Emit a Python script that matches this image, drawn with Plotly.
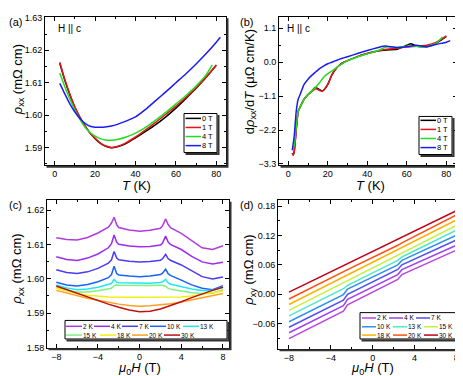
import plotly.graph_objects as go

W, H = 463, 376
FONT = "Liberation Sans"

# ---------------- (a) rho_xx vs T ----------------
T_0T = [2.5, 5, 7.5, 10, 12.5, 15, 17.5, 20, 22.5, 25, 28, 31, 35, 40, 45, 50, 55, 60, 65, 70, 75, 80]
rho_0T = [1.6160, 1.6108, 1.6063, 1.6024, 1.5993, 1.5967, 1.5945, 1.5928, 1.5914, 1.5905, 1.5900, 1.5903,
          1.5912, 1.5930, 1.5950, 1.5971, 1.5995, 1.6022, 1.6052, 1.6083, 1.6117, 1.6154]
T_1T = [2.5, 5, 7.5, 10, 12.5, 15, 17.5, 20, 22.5, 25, 28, 31, 35, 40, 45, 50, 55, 60, 65, 70, 75, 80]
rho_1T = [1.6163, 1.6110, 1.6065, 1.6025, 1.5994, 1.5967, 1.5945, 1.5929, 1.5915, 1.5906, 1.5901, 1.5904,
          1.5914, 1.5933, 1.5955, 1.5978, 1.6003, 1.6028, 1.6055, 1.6085, 1.6118, 1.6155]
T_4T = [2.5, 5, 7.5, 10, 12.5, 15, 17.5, 20, 22.5, 25, 28, 31, 35, 40, 45, 50, 55, 60, 65, 70, 75, 78]
rho_4T = [1.6130, 1.6088, 1.6050, 1.6016, 1.5987, 1.5963, 1.5947, 1.5936, 1.5928, 1.5924, 1.5923, 1.5925,
          1.5932, 1.5945, 1.5963, 1.5985, 1.6009, 1.6035, 1.6061, 1.6090, 1.6125, 1.6155]
T_8T = [2.5, 5, 7.5, 10, 12.5, 15, 17.5, 20, 22.5, 25, 28, 31, 35, 40, 45, 50, 55, 60, 65, 70, 75, 80, 82]
rho_8T = [1.6098, 1.6066, 1.6035, 1.6010, 1.5990, 1.5975, 1.5966, 1.5963, 1.5963, 1.5964, 1.5967, 1.5972,
          1.5981, 1.5995, 1.6018, 1.6045, 1.6072, 1.6100, 1.6128, 1.6158, 1.6190, 1.6225, 1.6240]

# ---------------- (b) d rho_xx / dT ----------------
Tb_0T = [2, 2.5, 3, 4, 5, 6, 8, 10, 12, 13.5, 15, 17, 18, 20, 22, 24, 26, 28, 30, 35, 40, 45, 50, 55, 60, 62, 65, 70, 75, 80]
drho_0T = [-2.95, -3.0, -2.9, -2.2, -1.6, -1.45, -1.2, -1.05, -0.93, -0.82, -0.86, -0.93, -0.9, -0.72, -0.42,
           -0.22, -0.09, -0.01, 0.05, 0.18, 0.28, 0.36, 0.40, 0.42, 0.55, 0.60, 0.52, 0.50, 0.62, 0.84]
Tb_1T = [2, 2.5, 3, 4, 5, 6, 8, 10, 12, 14, 16, 17, 18, 20, 22, 24, 26, 28, 30, 35, 40, 45, 50, 55, 60, 65, 70, 75, 80]
drho_1T = [-2.95, -3.02, -2.9, -2.2, -1.6, -1.45, -1.2, -1.05, -0.95, -0.86, -0.92, -0.94, -0.9, -0.72, -0.42,
           -0.22, -0.09, -0.01, 0.05, 0.18, 0.28, 0.36, 0.42, 0.45, 0.50, 0.52, 0.55, 0.65, 0.85]
Tb_4T = [2, 3, 4, 5, 6, 8, 10, 12, 14, 16, 18, 20, 22, 24, 26, 28, 30, 35, 40, 45, 50, 55, 60, 65, 70, 75, 78]
drho_4T = [-2.85, -2.7, -2.1, -1.6, -1.45, -1.2, -1.05, -0.93, -0.8, -0.65, -0.48, -0.37, -0.29, -0.19, -0.1,
           -0.02, 0.05, 0.17, 0.27, 0.37, 0.50, 0.48, 0.52, 0.52, 0.50, 0.62, 0.82]
Tb_8T = [2, 3, 4, 5, 6, 8, 10, 12, 14, 16, 18, 20, 22, 24, 26, 28, 30, 35, 40, 45, 48, 50, 55, 60, 65, 70, 75, 80, 82]
drho_8T = [-2.85, -2.4, -1.6, -1.2, -1.05, -0.72, -0.55, -0.42, -0.31, -0.2, -0.12, -0.05, 0.0, 0.05, 0.1,
           0.14, 0.18, 0.28, 0.38, 0.47, 0.52, 0.52, 0.48, 0.50, 0.55, 0.50, 0.58, 0.65, 0.70]

# ---------------- (c) rho_xx vs mu0H ----------------
H_kink = [-8, -7, -6, -5, -4, -3, -2.7, -2.45, -2.2, -2, -1, 0, 1, 2, 2.2, 2.5, 2.75, 3, 4, 5, 6, 7, 8]
H_smooth = [-8, -7, -6, -5, -4, -3, -2, -1, 0, 1, 2, 3, 4, 5, 6, 7, 8]
rxx_2K = [1.6119, 1.6114, 1.6113, 1.6120, 1.6133, 1.6150, 1.6162, 1.6179, 1.6157, 1.6149, 1.6142, 1.6138,
          1.6141, 1.6147, 1.6154, 1.6174, 1.6157, 1.6148, 1.6132, 1.6110, 1.6090, 1.6085, 1.6096]
rxx_4K = [1.6064, 1.6056, 1.6053, 1.6060, 1.6072, 1.6090, 1.6102, 1.6127, 1.6106, 1.6100, 1.6095, 1.6093,
          1.6094, 1.6098, 1.6104, 1.6124, 1.6106, 1.6099, 1.6085, 1.6065, 1.6049, 1.6043, 1.6048]
rxx_7K = [1.6026, 1.6018, 1.6015, 1.6020, 1.6030, 1.6045, 1.6055, 1.6079, 1.6060, 1.6055, 1.6051, 1.6049,
          1.6050, 1.6054, 1.6058, 1.6071, 1.6058, 1.6053, 1.6040, 1.6022, 1.6006, 1.5999, 1.6005]
rxx_10K = [1.5990, 1.5982, 1.5979, 1.5983, 1.5991, 1.6003, 1.6012, 1.6036, 1.6015, 1.6011, 1.6008, 1.6006,
           1.6008, 1.6012, 1.6016, 1.6028, 1.6014, 1.6009, 1.5996, 1.5982, 1.5972, 1.5968, 1.5980]
rxx_13K = [1.5982, 1.5973, 1.5968, 1.5970, 1.5975, 1.5982, 1.5986, 1.5998, 1.5990, 1.5988, 1.5987, 1.5986,
           1.5987, 1.5989, 1.5991, 1.5998, 1.5988, 1.5984, 1.5976, 1.5970, 1.5966, 1.5966, 1.5975]
rxx_15K = [1.5975, 1.5966, 1.5961, 1.5961, 1.5965, 1.5969, 1.5972, 1.5980, 1.5982, 1.5981, 1.5980, 1.5979,
           1.5980, 1.5981, 1.5981, 1.5978, 1.5972, 1.5969, 1.5963, 1.5959, 1.5957, 1.5958, 1.5968]
rxx_18K = [1.5972, 1.5964, 1.5957, 1.5952, 1.5949, 1.5947, 1.5946, 1.5946, 1.5945, 1.5945, 1.5945, 1.5945,
           1.5947, 1.5950, 1.5954, 1.5958, 1.5964]
rxx_20K = [1.5966, 1.5958, 1.5950, 1.5943, 1.5937, 1.5931, 1.5926, 1.5922, 1.5920, 1.5921, 1.5923, 1.5927,
           1.5932, 1.5938, 1.5944, 1.5950, 1.5957]
rxx_30K = [1.5979, 1.5968, 1.5957, 1.5946, 1.5936, 1.5926, 1.5917, 1.5909, 1.5904, 1.5905, 1.5912, 1.5922,
           1.5933, 1.5945, 1.5956, 1.5966, 1.5975]

# ---------------- (d) rho_xy vs mu0H ----------------
H_d = [-8, -2.8, -2.4, 2.4, 2.8, 8]
rxy_2K = [-0.0913, -0.035, -0.022, 0.030, 0.040, 0.090]
rxy_4K = [-0.0793, -0.0235, -0.011, 0.040, 0.050, 0.100]
rxy_7K = [-0.068, -0.0125, -0.0005, 0.0505, 0.060, 0.1107]
rxy_10K = [-0.0567, -0.001, 0.010, 0.060, 0.069, 0.1207]
rxy_13K = [-0.0447, 0.011, 0.018, 0.069, 0.076, 0.1307]
rxy_15K = [-0.0333, 0.023, 0.028, 0.079, 0.085, 0.1407]
rxy_18K = [-0.0213, 0.035, 0.039, 0.090, 0.095, 0.152]
rxy_20K = [-0.010, 0.046, 0.050, 0.100, 0.105, 0.162]
rxy_30K = [0.004, 0.058, 0.062, 0.112, 0.116, 0.1707]

field_labels = ["0 T", "1 T", "4 T", "8 T"]
field_colors = ["#000000", "#e8141c", "#22dd22", "#1c1cf0"]
temp_labels = ["2 K", "4 K", "7 K", "10 K", "13 K", "15 K", "18 K", "20 K", "30 K"]
c_colors = ["#b03ce0", "#9c2cf0", "#4a3cf0", "#1a64f5", "#20e8f0", "#80f080", "#f0f010", "#ffa020", "#c01010"]
d_colors = ["#b848e0", "#a040f0", "#5050f0", "#3090f0", "#50e8c8", "#c8f040", "#ffb000", "#ff5010", "#c00018"]

fig = go.Figure()

# (a)
for x, y, c, n in zip([T_0T, T_1T, T_4T, T_8T], [rho_0T, rho_1T, rho_4T, rho_8T], field_colors, field_labels):
    fig.add_trace(go.Scatter(x=x, y=y, mode="lines", line=dict(color=c, width=1.5, shape="spline", smoothing=0.6),
                             name=n, xaxis="x", yaxis="y"))
# (b)
for x, y, c, n in zip([Tb_0T, Tb_1T, Tb_4T, Tb_8T], [drho_0T, drho_1T, drho_4T, drho_8T], field_colors, field_labels):
    fig.add_trace(go.Scatter(x=x, y=y, mode="lines", line=dict(color=c, width=1.5, shape="spline", smoothing=0.5),
                             name=n, xaxis="x2", yaxis="y2"))
# (c)
c_series = [(H_kink, rxx_2K), (H_kink, rxx_4K), (H_kink, rxx_7K), (H_kink, rxx_10K), (H_kink, rxx_13K),
            (H_kink, rxx_15K), (H_smooth, rxx_18K), (H_smooth, rxx_20K), (H_smooth, rxx_30K)]
for (x, y), c, n in zip(c_series, c_colors, temp_labels):
    fig.add_trace(go.Scatter(x=x, y=y, mode="lines", line=dict(color=c, width=1.5), name=n, xaxis="x3", yaxis="y3"))
# (d)
d_series = [rxy_2K, rxy_4K, rxy_7K, rxy_10K, rxy_13K, rxy_15K, rxy_18K, rxy_20K, rxy_30K]
for y, c, n in zip(d_series, d_colors, temp_labels):
    fig.add_trace(go.Scatter(x=H_d, y=y, mode="lines", line=dict(color=c, width=1.5), name=n, xaxis="x4", yaxis="y4"))


def px(x):
    return x / W


def py(y):
    return 1 - y / H


# panel frames in pixels: x0, top, x1, bottom
boxes = {"a": (37, 5, 218, 157), "b": (271, 5, 449, 157), "c": (39, 193, 221, 344), "d": (270, 193, 452, 345)}


def ax(box, horiz, rng, dtick, minor, fmt, tick0=0):
    x0, y0, x1, y1 = box
    dom = [px(x0), px(x1)] if horiz else [py(y1), py(y0)]
    return dict(domain=dom, range=rng, dtick=dtick, tick0=tick0, tickformat=fmt, showline=True,
                linecolor="black", linewidth=1, mirror="allticks", ticks="inside", ticklen=4,
                tickcolor="black", showgrid=False, zeroline=False,
                minor=dict(ticks="inside", ticklen=2, dtick=minor, tickcolor="black", showgrid=False),
                tickfont=dict(size=9, color="black"))


layout = dict(
    width=W, height=H, margin=dict(l=0, r=0, t=0, b=0), showlegend=False,
    paper_bgcolor="white", plot_bgcolor="white", font=dict(family=FONT, color="black"),
    xaxis=ax(boxes["a"], True, [-4.8, 84.8], 20, 10, "d"),
    yaxis=ax(boxes["a"], False, [1.5846, 1.6303], 0.01, 0.005, ".2f", tick0=1.59),
    xaxis2=ax(boxes["b"], True, [-4.7, 85.4], 20, 10, "d"),
    yaxis2=ax(boxes["b"], False, [-3.341, 1.47], 1.1, 0.55, ".1f"),
    xaxis3=ax(boxes["c"], True, [-8.89, 8.58], 4, 2, "d"),
    yaxis3=ax(boxes["c"], False, [1.5799, 1.6228], 0.01, 0.005, ".2f", tick0=1.58),
    xaxis4=ax(boxes["d"], True, [-9.05, 8.35], 4, 2, "d"),
    yaxis4=ax(boxes["d"], False, [-0.112, 0.192], 0.06, 0.03, ".2f"),
)
for i in ["", "2", "3", "4"]:
    layout["xaxis" + i]["anchor"] = "y" + i
    layout["yaxis" + i]["anchor"] = "x" + i
fig.update_layout(**layout)

shapes = []
annotations = []


def text(x, y, s, size, anchor="left", angle=0):
    annotations.append(dict(x=px(x), y=py(y), xref="paper", yref="paper", text=s, showarrow=False,
                            xanchor=anchor, yanchor="middle", textangle=angle, borderpad=0,
                            font=dict(size=size, family=FONT, color="black")))


def shadow_box(x0, y0, x1, y1, fill=None, off=1.5):
    shapes.append(dict(type="path", xref="paper", yref="paper",
                       path=f"M{px(x0 + off)},{py(y1 + off)} L{px(x1 + off)},{py(y1 + off)} L{px(x1 + off)},{py(y0 + off)}",
                       line=dict(color="#333333", width=2)))
    if fill:
        shapes.append(dict(type="rect", xref="paper", yref="paper", x0=px(x0), x1=px(x1), y0=py(y1), y1=py(y0),
                           fillcolor=fill, line=dict(color="black", width=1)))


def swatch(x, y, length, color, label, size):
    shapes.append(dict(type="line", xref="paper", yref="paper", x0=px(x), x1=px(x + length), y0=py(y), y1=py(y),
                       line=dict(color=color, width=1.5)))
    text(x + length, y, label, size)


for b in boxes.values():
    shadow_box(*b)

# legends (a), (b)
shadow_box(176, 104, 209, 144, fill="white")
for i, (c, n) in enumerate(zip(field_colors, field_labels)):
    swatch(177.5, 109 + 9.3 * i, 15.5, c, n, 7.5)
shadow_box(411, 107, 444, 146, fill="white")
for i, (c, n) in enumerate(zip(field_colors, field_labels)):
    swatch(412.5, 111 + 9.3 * i, 15.5, c, n, 7.5)

# legend (c)
shadow_box(57, 316, 219, 335, fill="white")
c_starts = [(58, 322), (86, 322), (114, 322), (142, 322), (175, 322), (58, 331), (92, 331), (124, 331), (156, 331)]
for (x, y), c, n in zip(c_starts, c_colors, temp_labels):
    swatch(x, y, 16, c, n, 6.5)

# legend (d)
shadow_box(352, 308, 450, 335, fill="white")
d_starts = [(354, 313.5), (381, 313.5), (408, 313.5), (354, 322.5), (385, 322.5), (416, 322.5),
            (354, 331), (385, 331), (416, 331)]
for (x, y), c, n in zip(d_starts, d_colors, temp_labels):
    swatch(x, y, 14, c, n, 6.5)

# panel labels and notes
text(0, 10, "(a)", 11)
text(231, 10, "(b)", 11)
text(0, 198, "(c)", 11)
text(231, 198, "(d)", 11)
text(49, 17, "H || c", 10)
text(278, 17, "H || c", 10)

# axis titles
text(128, 178, "<i>T</i> (K)", 13, "center")
text(362, 178, "<i>T</i> (K)", 13, "center")
text(131, 365, "<i>μ</i><sub>0</sub><i>H</i> (T)", 13, "center")
text(364, 365, "<i>μ</i><sub>0</sub><i>H</i> (T)", 13, "center")
text(10, 70, "<i>ρ</i><sub>xx</sub> (mΩ cm)", 13, "center", -90)
text(242, 71, "d<i>ρ</i><sub>xx</sub>/d<i>T</i> (μΩ cm/K)", 13, "center", -90)
text(10, 264, "<i>ρ</i><sub>xx</sub> (mΩ cm)", 13, "center", -90)
text(242, 264, "<i>ρ</i><sub>xy</sub> (mΩ cm)", 13, "center", -90)

fig.update_layout(shapes=shapes, annotations=annotations)
fig.write_html("out.html")
